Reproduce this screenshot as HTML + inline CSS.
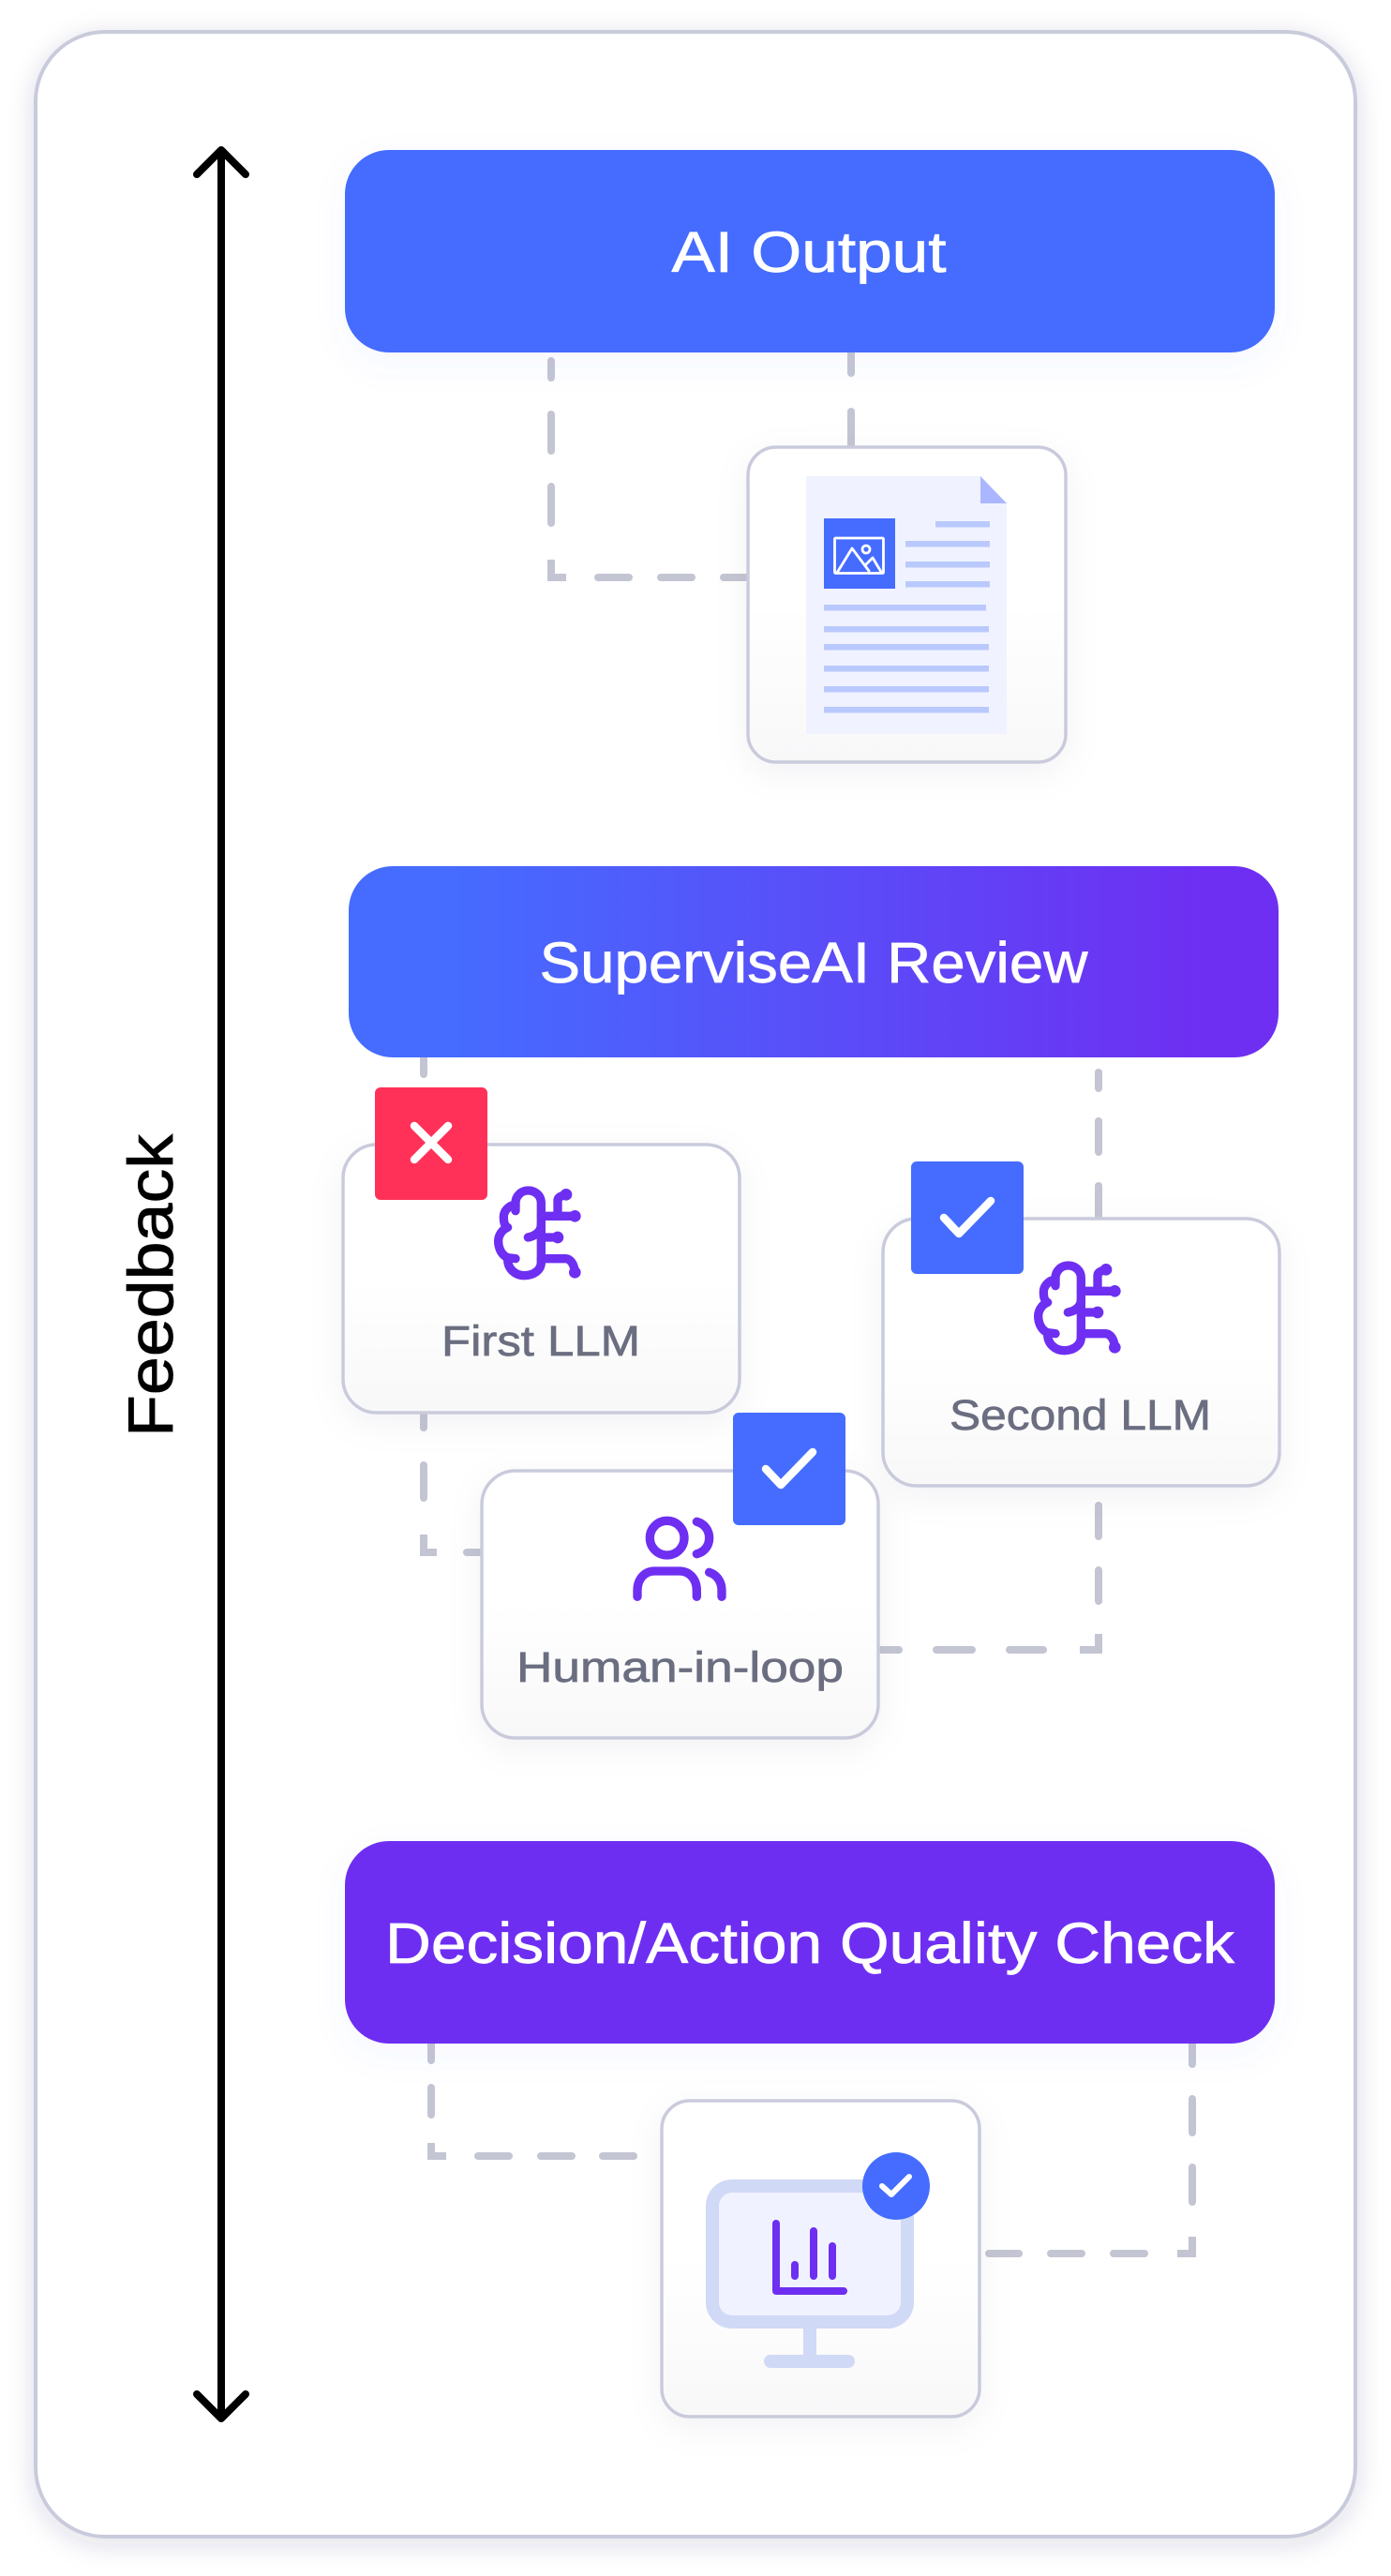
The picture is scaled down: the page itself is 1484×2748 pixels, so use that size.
<!DOCTYPE html>
<html><head><meta charset="utf-8"><style>
html,body{margin:0;padding:0;background:#fff}
svg{display:block}
text{font-family:"Liberation Sans",sans-serif}
.d{stroke:#C4C5D3;stroke-width:8;stroke-linecap:round;fill:none}
.c{fill:url(#cg);stroke:#C9CBDC;stroke-width:3.5;filter:url(#cs)}
.p{fill:none;stroke:#6E2FF2;stroke-linecap:round;stroke-linejoin:round}
.l{fill:#BAC9FD}
.w{fill:none;stroke:#fff;stroke-width:8.5;stroke-linecap:round;stroke-linejoin:round}
.t{fill:#fff;font-size:61px;stroke:#fff;stroke-width:.7px}
.g{fill:#6B6E80;font-size:45px;stroke:#6B6E80;stroke-width:.7px}
</style></head><body>
<svg width="1484" height="2748" viewBox="0 0 1484 2748" xmlns="http://www.w3.org/2000/svg">
<defs>
<linearGradient id="cg" x1="0" y1="0" x2="0" y2="1"><stop offset="0" stop-color="#fff"/><stop offset=".5" stop-color="#fff"/><stop offset="1" stop-color="#F8F8F9"/></linearGradient>
<linearGradient id="sg" x1="0" y1="0" x2="1" y2="0"><stop offset="0" stop-color="#456CFF"/><stop offset=".1" stop-color="#456CFF"/><stop offset=".92" stop-color="#6E2FF2"/><stop offset="1" stop-color="#6E2FF2"/></linearGradient>
<filter id="os" x="-10%" y="-10%" width="120%" height="120%"><feDropShadow dx="0" dy="6" stdDeviation="14" flood-color="#32325D" flood-opacity=".15"/></filter>
<filter id="cs" x="-30%" y="-30%" width="160%" height="160%"><feDropShadow dx="0" dy="10" stdDeviation="18" flood-color="#32325D" flood-opacity=".05"/></filter>
<filter id="bs" x="-10%" y="-30%" width="120%" height="170%"><feDropShadow dx="0" dy="12" stdDeviation="18" flood-color="#456CFF" flood-opacity=".05"/></filter>
<g id="brain" class="p" stroke-width="28">
<path d="M232 320V130C232 105 212 90 190 90C168 90 150 108 150 130V155"/>
<path d="M150 135C128 138 112 155 112 175C112 190 114 203 125 208C108 215 95 232 95 252C95 278 108 298 125 305L150 308"/>
<path d="M125 310C125 340 148 362 178 362C208 362 232 345 232 320"/>
<path d="M190 240C212 236 232 222 232 200"/>
<path d="M232 172H340M285 172V122C285 112 298 106 312 103M232 240H285M232 308H310C325 308 338 325 340 352"/>
<circle cx="312" cy="103" r="6" stroke-width="26"/><circle cx="340" cy="172" r="6" stroke-width="26"/><circle cx="285" cy="240" r="6" stroke-width="26"/><circle cx="340" cy="352" r="6" stroke-width="26"/>
</g>
</defs>

<rect x="38" y="34" width="1408" height="2672" rx="74" fill="#fff" stroke="#C9CBDC" stroke-width="4" filter="url(#os)"/>

<!-- feedback arrow -->
<path d="M236 162V2578M210 186L236 160L262 186M210 2554L236 2580L262 2554" fill="none" stroke="#000" stroke-width="8" stroke-linecap="round" stroke-linejoin="round"/>
<text transform="translate(184,1533) rotate(-90)" x="0" y="0" font-size="68" fill="#000" stroke="#000" stroke-width=".8" textLength="323" lengthAdjust="spacingAndGlyphs">Feedback</text>

<!-- connectors: AI Output -->
<g class="d">
<path d="M588 385V403M588 442V481M588 519V558"/>
<path d="M588 597V616H604" style="stroke-linecap:butt"/>
<path d="M638 616H671M705 616H738M772 616H797"/>
<path d="M908 376V398M908 439V480"/>
<!-- SuperviseAI -->
<path d="M452 1129V1146M452 1507V1523M452 1563V1598"/>
<path d="M452 1637V1656H466" style="stroke-linecap:butt"/>
<path d="M498 1656H514"/>
<path d="M1172 1144V1161M1172 1196V1229M1172 1265V1302M1172 1606V1639M1172 1675V1708"/>
<path d="M1172 1743V1760H1152" style="stroke-linecap:butt"/>
<path d="M937 1760H959M999 1760H1037M1077 1760H1113"/>
<!-- Decision -->
<path d="M460 2180V2198M460 2227V2256"/>
<path d="M460 2286V2300H476" style="stroke-linecap:butt"/>
<path d="M510 2300H543M577 2300H610M643 2300H676"/>
<path d="M1272 2180V2202M1272 2239V2275M1272 2312V2349"/>
<path d="M1272 2386V2404H1256" style="stroke-linecap:butt"/>
<path d="M1055 2404H1087M1121 2404H1154M1188 2404H1221"/>
</g>

<!-- header boxes -->
<rect x="368" y="160" width="992" height="216" rx="47" fill="#456CFF" filter="url(#bs)"/>
<text class="t" x="863" y="290" text-anchor="middle" textLength="293" lengthAdjust="spacingAndGlyphs">AI Output</text>

<rect x="372" y="924" width="992" height="204" rx="47" fill="url(#sg)"/>
<text class="t" x="868" y="1048" text-anchor="middle" textLength="585" lengthAdjust="spacingAndGlyphs">SuperviseAI Review</text>

<rect x="368" y="1964" width="992" height="216" rx="47" fill="#6E2FF2" filter="url(#bs)"/>
<text class="t" x="864" y="2094" text-anchor="middle" textLength="906" lengthAdjust="spacingAndGlyphs">Decision/Action Quality Check</text>

<!-- document card -->
<rect class="c" x="798" y="477" width="339" height="336" rx="30"/>
<path d="M860 508H1046L1074 537V783H860Z" fill="#F0F3FF"/>
<path d="M1046 508L1074 537H1046Z" fill="#AAB6FF"/>
<rect x="879" y="553" width="76" height="75" fill="#456CFF"/>
<g fill="none" stroke="#fff" stroke-width="2.8" stroke-linejoin="round" stroke-linecap="round">
<rect x="890.5" y="574" width="52" height="37.5" rx="1"/>
<path d="M893 611L909 585L927 609M923 603L931 595L940 610"/>
<circle cx="924" cy="586" r="4"/>
</g>
<rect class="l" x="998" y="556" width="58" height="6.5"/>
<rect class="l" x="966" y="577" width="90" height="6.5"/>
<rect class="l" x="966" y="599" width="90" height="6.5"/>
<rect class="l" x="966" y="620" width="90" height="6.5"/>
<rect class="l" x="879" y="645" width="173" height="6.5"/>
<rect class="l" x="879" y="668" width="176" height="6.5"/>
<rect class="l" x="879" y="687" width="176" height="6.5"/>
<rect class="l" x="879" y="710" width="176" height="6.5"/>
<rect class="l" x="879" y="732" width="176" height="6.5"/>
<rect class="l" x="879" y="754" width="176" height="6.5"/>

<!-- First LLM -->
<rect class="c" x="366" y="1221" width="423" height="286" rx="36"/>
<rect x="400" y="1160" width="120" height="120" rx="6" fill="#FF3158"/>
<path class="w" d="M442 1201L478 1237M478 1201L442 1237"/>
<use href="#brain" transform="translate(500,1240) scale(.3333)"/>
<text class="g" x="471" y="1446" textLength="212" lengthAdjust="spacingAndGlyphs">First LLM</text>

<!-- Second LLM -->
<rect class="c" x="942" y="1300" width="423" height="285" rx="36"/>
<rect x="972" y="1239" width="120" height="120" rx="6" fill="#456CFF"/>
<path class="w" d="M1007 1299L1023 1316L1057 1281"/>
<use href="#brain" transform="translate(1076,1320) scale(.3333)"/>
<text class="g" x="1013" y="1525" textLength="279" lengthAdjust="spacingAndGlyphs">Second LLM</text>

<!-- Human -->
<rect class="c" x="514" y="1569" width="423" height="285" rx="36"/>
<rect x="782" y="1507" width="120" height="120" rx="6" fill="#456CFF"/>
<path class="w" d="M817 1567L833 1584L867 1549"/>
<g transform="translate(650,1590) scale(.3333)" class="p" stroke-width="28">
<circle cx="185" cy="152" r="55"/>
<path d="M280 100C305 106 320 128 320 152C320 176 305 197 280 203"/>
<path d="M90 340V320C90 285 112 258 145 258H225C258 258 280 285 280 320V340"/>
<path d="M320 262C345 270 360 292 360 320V340"/>
</g>
<text class="g" x="551" y="1794" textLength="349" lengthAdjust="spacingAndGlyphs">Human-in-loop</text>

<!-- Monitor card -->
<rect class="c" x="706" y="2241" width="339" height="337" rx="30"/>
<rect x="753" y="2325" width="222" height="159" rx="28" fill="#D0D9F5"/>
<rect x="767" y="2339" width="194" height="131" rx="14" fill="#F0F3FF"/>
<rect x="857" y="2484" width="14" height="30" fill="#D0D9F5"/>
<rect x="815" y="2512" width="97" height="14" rx="7" fill="#D0D9F5"/>
<path class="p" stroke-width="8" d="M828 2372V2444H900M848 2416V2428M868 2380V2428M888 2396V2428"/>
<circle cx="956" cy="2332" r="36" fill="#456CFF"/>
<path class="w" style="stroke-width:6" d="M941 2332L951 2341L970 2322"/>
</svg>
</body></html>
